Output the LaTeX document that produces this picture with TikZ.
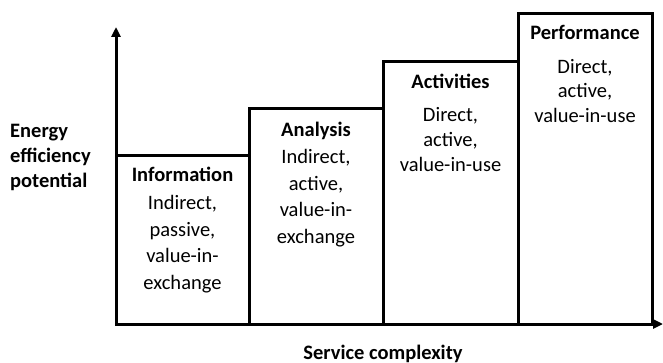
\documentclass[tikz,border=0pt]{standalone}
\usepackage{fontspec}
\setmainfont{Carlito}
\usetikzlibrary{arrows.meta}

\begin{document}
\begin{tikzpicture}[x=1pt, y=-1pt,
    stepbox/.style={draw, line width=3pt, outer sep=0pt, inner sep=0pt,
                    anchor=south west, minimum width=#1},
    heading/.style={font=\fontsize{20.5}{24}\selectfont\bfseries, anchor=base, inner sep=0pt},
    body/.style={font=\fontsize{20.5}{#1}\selectfont, align=center, anchor=north, inner sep=0pt},
    axislabel/.style={font=\fontsize{20.5}{25}\selectfont\bfseries, inner sep=0pt},
    axis/.style={line width=3pt, -{Triangle[length=10pt, width=9pt]}}
  ]
  \useasboundingbox (0,0) rectangle (663,363);

  % level boxes, stepping up from left to right
  \node[stepbox=133pt, minimum height=168pt] (info) at (116,324) {};
  \node[stepbox=134pt, minimum height=215pt] (ana)  at (249,324) {};
  \node[stepbox=135pt, minimum height=262pt] (act)  at (383,324) {};
  \node[stepbox=134pt, minimum height=310pt] (perf) at (518,324) {};

  % axes
  \coordinate (ytip) at (116,27);
  \coordinate (xtip) at (663,324);
  \draw[axis] (info.south west) -- (ytip);
  \draw[axis] (info.south west) -- (xtip);

  % box contents
  \node[heading] (infoh) at (182.5,181.5) {Information};
  \node[body=26.5pt] (infob) at (182.5,195.5) {Indirect,\\passive,\\value-in-\\exchange};

  \node[heading] (anah) at (316,136.5) {Analysis};
  \node[body=26.5pt] (anab) at (316,149.5) {Indirect,\\active,\\value-in-\\exchange};

  \node[heading] (acth) at (450.5,88.5) {Activities};
  \node[body=25pt] (actb) at (450.5,107.5) {Direct,\\active,\\value-in-use};

  \node[heading] (perfh) at (585,39.5) {Performance};
  \node[body=24.5pt] (perfb) at (585,59) {Direct,\\active,\\value-in-use};

  % axis labels
  \node[axislabel, align=left, anchor=north west] (ylab) at (10,124.5) {Energy\\efficiency\\potential};
  \node[axislabel, anchor=base] (xlab) at (383,359) {Service complexity};
\end{tikzpicture}
\end{document}
